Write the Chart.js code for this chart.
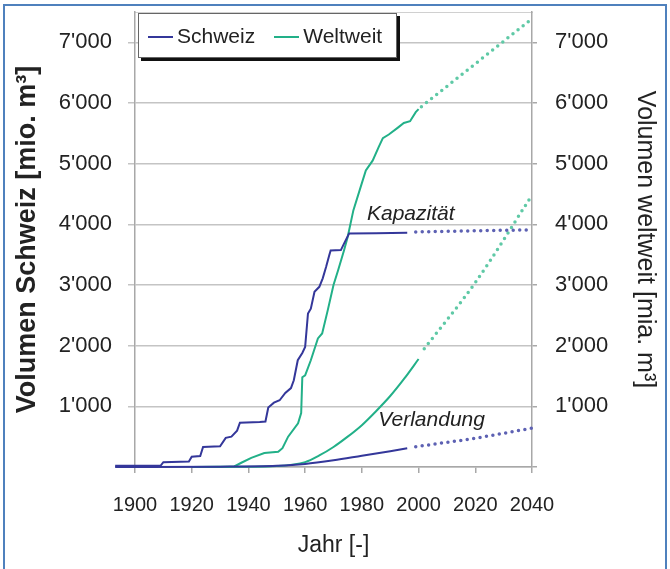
<!DOCTYPE html>
<html>
<head>
<meta charset="utf-8">
<script src="https://cdn.jsdelivr.net/npm/chart.js@4.4.1/dist/chart.umd.min.js"></script>
<style>
  html, body { margin: 0; padding: 0; background: #fff; }
  #wrap { position: relative; width: 670px; height: 569px; overflow: hidden; }
  #frame { position: absolute; left: 3px; top: 4px; width: 660px; height: 600px;
           border: 2px solid #4f81bd; pointer-events: none; }
  #legend { position: absolute; left: 138px; top: 13px; width: 259px; height: 45px;
            border: 1px solid #666; box-shadow: 3px 3px 0 #111; background: #fff;
            font: 21px "Liberation Sans", Arial, sans-serif; color: #222;
            display: flex; align-items: center; padding-left: 9px; box-sizing: border-box; }
  #legend .sw { display: inline-block; width: 25px; height: 2px; margin-right: 4px; vertical-align: middle; }
  #legend .item { margin-right: 19px; white-space: nowrap; }
</style>
</head>
<body>
<div id="wrap">
  <canvas id="volChart" width="670" height="569"></canvas>
  <div id="frame"></div>
  <div id="legend">
    <span class="item"><span class="sw" style="background:#34379a"></span>Schweiz</span>
    <span class="item"><span class="sw" style="background:#22b088"></span>Weltweit</span>
  </div>
</div>
<script>
// Speicherkapazität Schweiz [mio. m3]
const capYearsCH  = [1893, 1909, 1910, 1919, 1920, 1923, 1924, 1930, 1932, 1934, 1936, 1937, 1944, 1946, 1947, 1949, 1951, 1953, 1955, 1956, 1957.4, 1959, 1960, 1961, 1962, 1963.3, 1965, 1966.2, 1967.4, 1968.5, 1969, 1972.6, 1973.8, 1975.5, 1985, 1996];
const capValuesCH = [20, 20, 80, 90, 170, 180, 330, 340, 480, 500, 600, 730, 740, 750, 980, 1060, 1100, 1220, 1300, 1430, 1760, 1880, 1980, 2530, 2610, 2890, 2970, 3110, 3300, 3490, 3570, 3575, 3690, 3850, 3855, 3860];
const capFcYearsCH  = [1999, 2040];
const capFcValuesCH = [3875, 3910];

// Verlandung Schweiz
const sedYearsCH  = [1893, 1930, 1950, 1960, 1970, 1980, 1990, 1996];
const sedValuesCH = [0, 5, 20, 50, 110, 185, 260, 310];
const sedFcYearsCH  = [1999, 2020, 2040];
const sedFcValuesCH = [335, 475, 640];

// Speicherkapazität weltweit [mia. m3]
const capYearsWW  = [1920, 1935, 1937.5, 1941, 1945.6, 1950.5, 1952, 1954, 1957.5, 1958.6, 1959, 1960, 1962, 1964.5, 1966, 1968, 1970, 1971.6, 1973.7, 1975, 1977, 1980, 1981.4, 1983.8, 1986, 1987.4, 1989.5, 1992.6, 1994.8, 1997, 1999, 2000];
const capValuesWW = [0, 10, 70, 150, 230, 250, 310, 500, 720, 890, 1480, 1510, 1760, 2120, 2200, 2590, 3000, 3240, 3570, 3790, 4230, 4680, 4890, 5050, 5280, 5420, 5480, 5590, 5670, 5700, 5850, 5900];
const capFcYearsWW  = [2001, 2040];
const capFcValuesWW = [5940, 7390];

// Verlandung weltweit
const sedYearsWW  = [1920, 1940, 1950, 1960, 1965, 1970, 1975, 1980, 1985, 1990, 1995, 2000];
const sedValuesWW = [0, 5, 15, 80, 190, 330, 500, 690, 920, 1170, 1460, 1780];
const sedFcYearsWW  = [2002, 2020, 2040];
const sedFcValuesWW = [1950, 3040, 4480];

const xTicks = [1900, 1920, 1940, 1960, 1980, 2000, 2020, 2040];
const yTicks = [0, 1000, 2000, 3000, 4000, 5000, 6000, 7000];

const BLUE = '#34379a';
const BLUE_DOT = '#5d61b3';
const GREEN = '#22b088';
const GREEN_DOT = '#5fc9a6';
const GRID = '#c4c4c4';
const AXIS = '#a8a8a8';
const FONT = '"Liberation Sans", Arial, sans-serif';

Chart.defaults.font.family = FONT;
Chart.defaults.color = '#222';

function pts(xs, ys) {
  return xs.map((x, i) => ({ x: x, y: ys[i] }));
}

function solid(data, color, smooth) {
  return {
    data: data,
    borderColor: color,
    borderWidth: 2,
    pointRadius: 0,
    fill: false,
    clip: false,
    tension: smooth ? 0.4 : 0,
    cubicInterpolationMode: smooth ? 'monotone' : 'default'
  };
}

function dotted(data, color) {
  return {
    data: data,
    borderColor: color,
    borderWidth: 3.5,
    borderDash: [0, 6.5],
    borderCapStyle: 'round',
    pointRadius: 0,
    fill: false,
    clip: false,
    cubicInterpolationMode: 'monotone'
  };
}

function fmtThousands(v) {
  if (v === 0) return '';
  return (v / 1000) + "'000";
}

// Beschriftungen im Diagramm
const notes = [
  { text: 'Kapazität', x: 1981.8, y: 4070 },
  { text: 'Verlandung', x: 1985.8, y: 680 }
];

const notesPlugin = {
  id: 'notes',
  afterDatasetsDraw(chart) {
    const ctx = chart.ctx;
    const xs = chart.scales.x, ys = chart.scales.y;
    ctx.save();
    ctx.font = 'italic 21px ' + FONT;
    ctx.fillStyle = '#222';
    ctx.textAlign = 'left';
    ctx.textBaseline = 'alphabetic';
    notes.forEach(n => {
      ctx.fillText(n.text, xs.getPixelForValue(n.x), ys.getPixelForValue(n.y));
    });
    ctx.restore();
  }
};

const setYTicks = s => { s.ticks = yTicks.map(v => ({ value: v })); };
// fixed axis sizes, no extra room for half tick labels
const fitY = w => s => { s.width = w; s.paddingTop = 0; s.paddingBottom = 0; };

const ctx = document.getElementById('volChart').getContext('2d');

new Chart(ctx, {
  type: 'line',
  data: {
    datasets: [
      solid(pts(capYearsCH, capValuesCH), BLUE, false),
      dotted(pts(capFcYearsCH, capFcValuesCH), BLUE_DOT),
      solid(pts(sedYearsCH, sedValuesCH), BLUE, true),
      dotted(pts(sedFcYearsCH, sedFcValuesCH), BLUE_DOT),
      solid(pts(capYearsWW, capValuesWW), GREEN, false),
      dotted(pts(capFcYearsWW, capFcValuesWW), GREEN_DOT),
      solid(pts(sedYearsWW, sedValuesWW), GREEN, true),
      dotted(pts(sedFcYearsWW, sedFcValuesWW), GREEN_DOT)
    ]
  },
  options: {
    responsive: false,
    animation: false,
    layout: { padding: { left: 6, right: 8, top: 12, bottom: 0 } },
    plugins: {
      legend: { display: false },
      tooltip: { enabled: false }
    },
    scales: {
      x: {
        type: 'linear',
        position: 'bottom',
        min: 1900,
        max: 2040,
        afterBuildTicks: s => { s.ticks = xTicks.map(v => ({ value: v })); },
        afterFit: s => { s.height = 102; s.paddingLeft = 0; s.paddingRight = 0; },
        grid: { drawOnChartArea: false, color: AXIS, tickLength: 6, lineWidth: 1.5 },
        border: { color: AXIS, width: 1.5 },
        ticks: { font: { size: 20 }, padding: 20, maxRotation: 0, callback: v => String(v) },
        title: { display: true, text: 'Jahr [-]', font: { size: 23 }, padding: { top: 0, bottom: 10 } }
      },
      xTop: {
        type: 'linear',
        position: 'top',
        min: 1900,
        max: 2040,
        afterFit: s => { s.height = 0; s.paddingLeft = 0; s.paddingRight = 0; },
        grid: { display: false },
        border: { color: '#d0d0d0', width: 1 },
        ticks: { display: false }
      },
      y: {
        type: 'linear',
        position: 'left',
        min: 0,
        max: 7500,
        afterBuildTicks: setYTicks,
        afterFit: fitY(129),
        ticks: { font: { size: 22 }, padding: 16, callback: fmtThousands },
        grid: { color: GRID, lineWidth: 1.5, tickLength: 7 },
        border: { color: AXIS, width: 1.5 },
        title: { display: true, text: 'Volumen Schweiz [mio. m³]', font: { size: 27, weight: 'bold' }, padding: { top: 5, bottom: 0 } }
      },
      y2: {
        type: 'linear',
        position: 'right',
        min: 0,
        max: 7500,
        afterBuildTicks: setYTicks,
        afterFit: fitY(130),
        ticks: { font: { size: 22 }, padding: 18, callback: fmtThousands },
        grid: { drawOnChartArea: false, color: AXIS, lineWidth: 1.5, tickLength: 5 },
        border: { color: AXIS, width: 1.5 },
        title: { display: true, text: 'Volumen weltweit [mia. m³]', font: { size: 25 }, padding: { top: 2, bottom: 0 } }
      }
    }
  },
  plugins: [notesPlugin]
});
</script>
</body>
</html>
